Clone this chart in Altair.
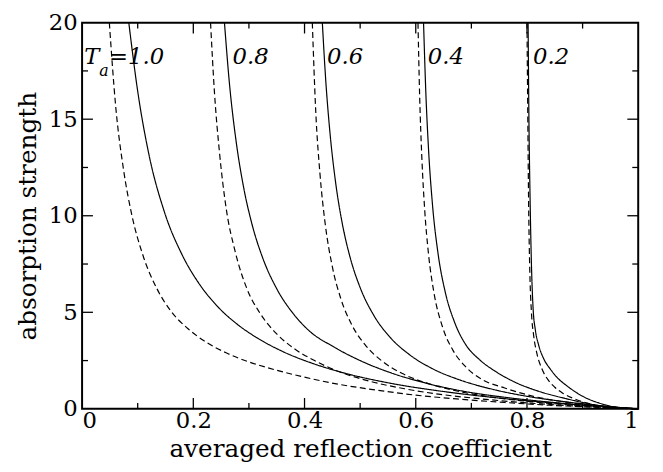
import altair as alt
import pandas as pd

# ---- curve data ----
d10_x = [0.049, 0.06, 0.075, 0.089, 0.11, 0.135, 0.16, 0.19, 0.22, 0.26, 0.30, 0.35, 0.40, 0.46, 0.53, 0.60, 0.68, 0.76, 0.84, 0.92, 1.0]
d10_y = [20, 15.8, 12.3, 10.1, 7.9, 6.2, 5.05, 4.16, 3.51, 2.89, 2.43, 2.0, 1.64, 1.28, 0.97, 0.71, 0.50, 0.33, 0.19, 0.085, 0]

s10_x = [0.084, 0.10, 0.12, 0.148, 0.18, 0.21, 0.244, 0.28, 0.315, 0.36, 0.42, 0.475, 0.55, 0.652, 0.75, 0.85, 0.93, 1.0]
s10_y = [20, 16.45, 13.2, 10.2, 7.97, 6.5, 5.29, 4.36, 3.67, 2.98, 2.30, 1.83, 1.35, 0.89, 0.56, 0.30, 0.13, 0]

d08_x = [0.231, 0.238, 0.247, 0.259, 0.275, 0.297, 0.32, 0.35, 0.38, 0.42, 0.46, 0.52, 0.58, 0.65, 0.72, 0.80, 0.88, 0.95, 1.0]
d08_y = [20, 16.4, 13.3, 10.4, 8.18, 6.18, 4.95, 3.88, 3.15, 2.47, 1.95, 1.41, 1.04, 0.73, 0.51, 0.31, 0.16, 0.06, 0]

s08_x = [0.256, 0.265, 0.277, 0.290, 0.305, 0.325, 0.35, 0.38, 0.41, 0.45, 0.50, 0.56, 0.62, 0.69, 0.76, 0.83, 0.90, 0.95, 1.0]
s08_y = [20, 16.84, 13.85, 11.54, 9.62, 7.80, 6.22, 4.92, 4.0, 3.25, 2.5, 1.82, 1.32, 0.89, 0.60, 0.38, 0.20, 0.09, 0]

d06_x = [0.414, 0.42, 0.428, 0.437, 0.45, 0.465, 0.485, 0.51, 0.54, 0.575, 0.62, 0.67, 0.73, 0.80, 0.87, 0.94, 1.0]
d06_y = [20, 15.5, 12.09, 9.62, 7.36, 5.73, 4.35, 3.28, 2.46, 1.84, 1.33, 0.95, 0.64, 0.39, 0.22, 0.088, 0]

s06_x = [0.432, 0.438, 0.446, 0.456, 0.468, 0.482, 0.50, 0.525, 0.555, 0.59, 0.63, 0.68, 0.74, 0.80, 0.86, 0.93, 1.0]
s06_y = [20, 17.07, 14.22, 11.7, 9.58, 7.84, 6.28, 4.82, 3.67, 2.78, 2.08, 1.49, 1.0, 0.65, 0.40, 0.17, 0]

d04_x = [0.604, 0.607, 0.611, 0.616, 0.623, 0.633, 0.648, 0.667, 0.69, 0.72, 0.76, 0.81, 0.87, 0.93, 1.0]
d04_y = [20, 16.2, 12.97, 10.34, 8.0, 5.97, 4.25, 3.03, 2.17, 1.51, 1.08, 0.66, 0.35, 0.15, 0]

s04_x = [0.614, 0.618, 0.623, 0.630, 0.640, 0.653, 0.67, 0.69, 0.715, 0.745, 0.78, 0.82, 0.87, 0.93, 1.0]
s04_y = [20, 16.47, 13.43, 10.6, 8.06, 6.05, 4.47, 3.32, 2.54, 1.91, 1.36, 0.92, 0.53, 0.17, 0]

d02_x = [0.800, 0.8015, 0.803, 0.805, 0.808, 0.812, 0.818, 0.827, 0.838, 0.85, 0.865, 0.88, 0.90, 0.93, 0.96, 1.0]
d02_y = [20, 15, 10.5, 7.2, 5.0, 3.8, 2.85, 2.06, 1.5, 1.12, 0.80, 0.58, 0.37, 0.15, 0.05, 0]

s02_x = [0.802, 0.8035, 0.8055, 0.808, 0.811, 0.815, 0.821, 0.83, 0.842, 0.855, 0.871, 0.888, 0.905, 0.93, 0.96, 1.0]
s02_y = [20, 15, 11, 7.5, 5.2, 4.1, 3.3, 2.6, 2.06, 1.6, 1.21, 0.86, 0.58, 0.30, 0.09, 0]

# ---- labels ----
ta_labels = ["0.8", "0.6", "0.4", "0.2"]
ta_label_x = [0.2705, 0.4405, 0.6217, 0.811]

# ---- ticks ----
x_major = [0.2, 0.4, 0.6, 0.8]
x_minor = [0.1, 0.3, 0.5, 0.7, 0.9]
y_major = [5, 10, 15]
y_minor = [2.5, 7.5, 12.5, 17.5]
x_tick_values = [0, 0.2, 0.4, 0.6, 0.8, 1]
y_tick_values = [0, 5, 10, 15, 20]

W, H = 563, 391
FONT = "DejaVu Serif"

series = [
    ("d10", "dashed", d10_x, d10_y), ("s10", "solid", s10_x, s10_y),
    ("d08", "dashed", d08_x, d08_y), ("s08", "solid", s08_x, s08_y),
    ("d06", "dashed", d06_x, d06_y), ("s06", "solid", s06_x, s06_y),
    ("d04", "dashed", d04_x, d04_y), ("s04", "solid", s04_x, s04_y),
    ("d02", "dashed", d02_x, d02_y), ("s02", "solid", s02_x, s02_y),
]
rows = []
for name, style, xs, ys in series:
    for i, (xv, yv) in enumerate(zip(xs, ys)):
        rows.append({"series": name, "style": style, "x": xv, "y": yv, "order": i})
df = pd.DataFrame(rows)

xs_ = alt.Scale(domain=[0, 1], nice=False, zero=False)
ys_ = alt.Scale(domain=[0, 20], nice=False, zero=False)

lines = alt.Chart(df).mark_line(color="black", strokeWidth=1.2, interpolate="monotone").encode(
    x=alt.X("x:Q", scale=xs_,
            axis=alt.Axis(values=x_tick_values, format=".1~f", title="averaged reflection coefficient",
                          titleY=48.5, titleBaseline="alphabetic", labelPadding=1)),
    y=alt.Y("y:Q", scale=ys_,
            axis=alt.Axis(values=y_tick_values, format="d", title="absorption strength",
                          titleX=-47, titleBaseline="alphabetic", labelPadding=5)),
    detail="series:N",
    order="order:Q",
    strokeDash=alt.StrokeDash("style:N", scale=alt.Scale(domain=["solid", "dashed"], range=[[1, 0], [6, 3.5]]), legend=None),
)

def xticks(vals, length, top):
    d = pd.DataFrame({"x": vals})
    if top:
        return alt.Chart(d).mark_rule(color="black", strokeWidth=1.3).encode(
            x=alt.X("x:Q", scale=xs_), y=alt.value(0), y2=alt.value(length))
    return alt.Chart(d).mark_rule(color="black", strokeWidth=1.3).encode(
        x=alt.X("x:Q", scale=xs_), y=alt.value(H), y2=alt.value(H - length))

def yticks(vals, length, right):
    d = pd.DataFrame({"y": vals})
    if right:
        return alt.Chart(d).mark_rule(color="black", strokeWidth=1.3).encode(
            y=alt.Y("y:Q", scale=ys_), x=alt.value(W), x2=alt.value(W - length))
    return alt.Chart(d).mark_rule(color="black", strokeWidth=1.3).encode(
        y=alt.Y("y:Q", scale=ys_), x=alt.value(0), x2=alt.value(length))

ticks = [
    xticks(x_major, 11, False), xticks(x_minor, 6, False),
    xticks(x_major, 11, True), xticks(x_minor, 6, True),
    yticks(y_major, 11, False), yticks(y_minor, 6, False),
    yticks(y_major, 11, True), yticks(y_minor, 6, True),
]

lab_df = pd.DataFrame({"x": ta_label_x, "y": [17.85] * 4, "t": ta_labels})
labels = alt.Chart(lab_df).mark_text(font=FONT, fontSize=23, fontStyle="italic", align="left",
                                     baseline="alphabetic", color="black").encode(
    x=alt.X("x:Q", scale=xs_), y=alt.Y("y:Q", scale=ys_), text="t:N")

t_df = pd.DataFrame({"x": [0.004, 0.0485], "y": [17.85, 17.85], "t": ["T", "=1.0"]})
t_lab = alt.Chart(t_df).mark_text(font=FONT, fontSize=23, fontStyle="italic", align="left",
                                  baseline="alphabetic", color="black").encode(
    x=alt.X("x:Q", scale=xs_), y=alt.Y("y:Q", scale=ys_), text="t:N")
a_df = pd.DataFrame({"x": [0.031], "y": [17.25], "t": ["a"]})
a_lab = alt.Chart(a_df).mark_text(font=FONT, fontSize=16, fontStyle="italic", align="left",
                                  baseline="alphabetic", color="black").encode(
    x=alt.X("x:Q", scale=xs_), y=alt.Y("y:Q", scale=ys_), text="t:N")

chart = alt.layer(lines, *ticks, labels, t_lab, a_lab).properties(
    width=W, height=H,
    autosize=alt.AutoSizeParams(type="none"),
    padding={"left": 75, "top": 12, "right": 17, "bottom": 53},
    background="white",
).configure_view(stroke="black", strokeWidth=2).configure_axis(
    grid=False, ticks=False, domain=False,
    labelFont=FONT, labelFontSize=23, labelColor="black",
    titleFont=FONT, titleFontSize=25, titleFontWeight="normal", titleColor="black",
)

chart.save("out.html", embed_options={"renderer": "svg", "actions": False})
